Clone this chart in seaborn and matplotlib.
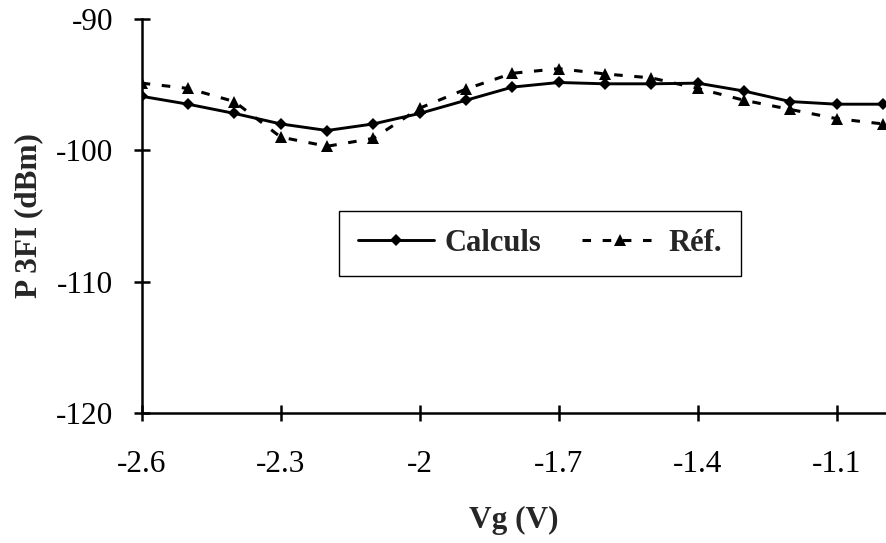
import matplotlib
matplotlib.use("Agg")
import matplotlib.pyplot as plt
import seaborn as sns
import pandas as pd

# Data
vg = [-2.6, -2.5, -2.4, -2.3, -2.2, -2.1, -2.0, -1.9, -1.8,
      -1.7, -1.6, -1.5, -1.4, -1.3, -1.2, -1.1, -1.0]
calculs = [-95.9, -96.5, -97.2, -98.0, -98.5, -98.0, -97.2, -96.2, -95.2,
           -94.85, -94.95, -94.95, -94.9, -95.5, -96.3, -96.5, -96.5]
ref = [-94.9, -95.3, -96.3, -99.0, -99.7, -99.1, -96.8, -95.35, -94.15,
       -93.8, -94.2, -94.5, -95.3, -96.2, -96.9, -97.6, -98.0]
x_ticks = [-2.6, -2.3, -2.0, -1.7, -1.4, -1.1]
x_tick_labels = ["-2.6", "-2.3", "-2", "-1.7", "-1.4", "-1.1"]
y_ticks = [-120, -110, -100, -90]

df = pd.DataFrame({"vg": vg, "Calculs": calculs, "Réf.": ref})

sns.set_style("ticks")
plt.rcParams["font.family"] = ["Liberation Serif", "DejaVu Serif"]
plt.rcParams["axes.unicode_minus"] = False

fig = plt.figure(figsize=(8.86, 5.43), dpi=100)
ax = fig.add_axes([141.7 / 886, 1 - 413.3 / 543, (886 - 141.7) / 886, (413.3 - 18.7) / 543])

sns.lineplot(data=df, x="vg", y="Calculs", ax=ax, color="black", linewidth=2.1,
             marker="D", markersize=6.5, markeredgewidth=0, label="Calculs")
sns.lineplot(data=df, x="vg", y="Réf.", ax=ax, color="black", linewidth=2.2,
             marker="^", markersize=8, markeredgewidth=0, dashes=(2.8, 3.8),
             label="Réf.")

ax.set_xlim(-2.6, -2.6 + (886 - 141.7) / 463.3)
ax.set_ylim(-120, -90)
ax.set_xticks(x_ticks)
ax.set_xticklabels(x_tick_labels)
ax.set_yticks(y_ticks)
ax.tick_params(direction="inout", length=11, width=1.8, labelsize=22.5, colors="black")
ax.tick_params(axis="x", pad=21)
ax.tick_params(axis="y", pad=15)
for s in ["top", "right"]:
    ax.spines[s].set_visible(False)
for s in ["left", "bottom"]:
    ax.spines[s].set_linewidth(1.8)
    ax.spines[s].set_color("black")
    ax.spines[s].set_clip_on(False)

ax.set_xlabel("Vg (V)", fontsize=22.5, fontweight="bold", labelpad=19)
ax.set_ylabel("P 3FI (dBm)", fontsize=22.5, fontweight="bold", labelpad=9)

leg = ax.legend(ncol=2, loc="center", bbox_to_anchor=(0.535, 0.43), frameon=True,
                fancybox=False, edgecolor="black", framealpha=1,
                prop={"family": ["Liberation Serif"], "weight": "bold", "size": 22},
                handlelength=2.5, columnspacing=1.35, handletextpad=0.33,
                borderpad=0.6, borderaxespad=0)
leg.get_frame().set_linewidth(1.0)

fig.savefig("out.png", dpi=100)
